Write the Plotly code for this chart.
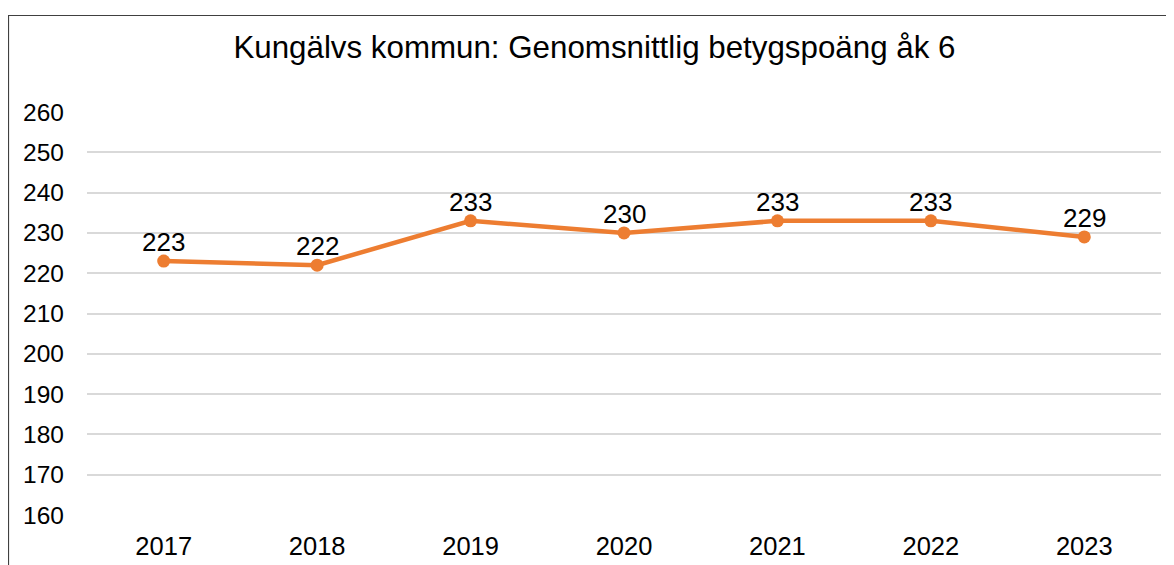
import plotly.graph_objects as go

years = ["2017", "2018", "2019", "2020", "2021", "2022", "2023"]
values = [223, 222, 233, 230, 233, 233, 229]
y_ticks = [160, 170, 180, 190, 200, 210, 220, 230, 240, 250, 260]
title_text = "Kungälvs kommun: Genomsnittlig betygspoäng åk 6"

FONT = "Liberation Sans, Arial"

fig = go.Figure()
fig.add_trace(go.Scatter(
    x=years, y=values, mode="lines+markers",
    line=dict(color="#ED7D31", width=4.5),
    marker=dict(color="#ED7D31", size=13),
    cliponaxis=False, showlegend=False, hoverinfo="x+y",
))

annotations = [
    dict(x=i, y=v, xref="x", yref="y", text=str(v), showarrow=False,
         yanchor="middle", xanchor="center", yshift=19,
         font=dict(family=FONT, size=26, color="#000000"))
    for i, v in enumerate(values)
]

fig.update_layout(
    width=1174, height=565,
    margin=dict(l=79, r=21, t=104, b=58),
    paper_bgcolor="white", plot_bgcolor="white",
    font=dict(family=FONT, size=24, color="#000000"),
    title=dict(text=title_text, x=0.4995, xanchor="center", y=0.931, yanchor="middle",
               font=dict(size=31.3, color="#000000")),
    xaxis=dict(type="category", range=[-0.5, 6.5], showgrid=False, showline=False,
               ticks="", tickfont=dict(size=25.5), ticklabelstandoff=13),
    yaxis=dict(range=[160, 260], tickvals=y_ticks, showgrid=True, gridcolor="#d9d9d9",
               gridwidth=1.5, zeroline=False, showline=False, ticks="",
               tickfont=dict(size=24.5), ticklabelstandoff=22),
    annotations=annotations,
    shapes=[dict(type="rect", xref="paper", yref="paper",
                 x0=(0.5 - 79) / 1074, x1=(1180 - 79) / 1074,
                 y0=(507 - 600) / 403, y1=(507 - 7.5) / 403,
                 line=dict(color="#404040", width=1.2), fillcolor="rgba(0,0,0,0)", layer="below")],
)

fig.write_html("out.html")
